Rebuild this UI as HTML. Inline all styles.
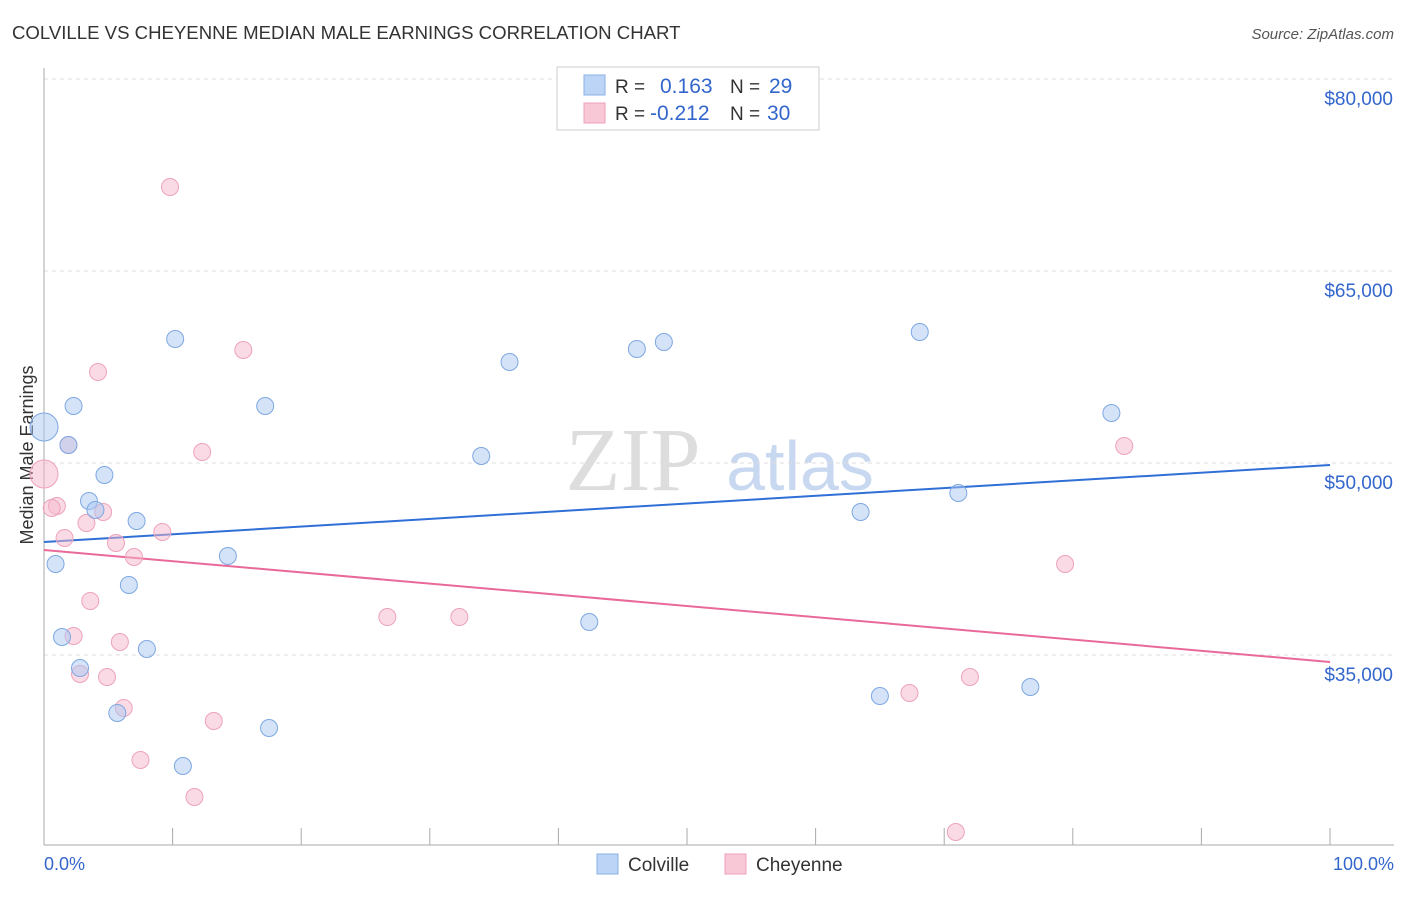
<!DOCTYPE html>
<html><head><meta charset="utf-8"><style>
body{margin:0;background:#fff;font-family:"Liberation Sans",sans-serif;}
svg text{font-family:"Liberation Sans",sans-serif;}
</style></head><body>
<svg id="chart" width="1406" height="892" xmlns="http://www.w3.org/2000/svg">
<text x="12" y="39" font-size="18.6" fill="#333">COLVILLE VS CHEYENNE MEDIAN MALE EARNINGS CORRELATION CHART</text>
<text x="1394" y="39" font-size="15" fill="#555" text-anchor="end" font-style="italic">Source: ZipAtlas.com</text>
<text x="33" y="455" font-size="18" fill="#333" text-anchor="middle" transform="rotate(-90 33 455)">Median Male Earnings</text>
<g>
<text x="633" y="490" font-size="90" fill="#ddd" text-anchor="middle" font-family="Liberation Serif, serif" style="font-family:'Liberation Serif',serif">ZIP</text>
<text x="800" y="490" font-size="70" fill="#c8d8f0" text-anchor="middle">atlas</text>
</g>
<g id="grid"></g>
<g id="axes"></g>
<g id="lines"></g>
<g id="pts"></g>
<g>
<rect x="557" y="67" width="262" height="63" fill="#fff" stroke="#ccc"/>
<rect x="584" y="75" width="21" height="20" fill="#bcd4f6" stroke="#8ab0e4"/>
<rect x="584" y="103" width="21" height="20" fill="#f9c8d6" stroke="#f0a0bb"/>
<text x="615" y="93" font-size="19" fill="#333">R =</text>
<text x="660" y="93" font-size="21" fill="#3366cc">0.163</text>
<text x="730" y="93" font-size="19" fill="#333">N =</text>
<text x="769" y="93" font-size="21" fill="#3366cc">29</text>
<text x="615" y="120" font-size="19" fill="#333">R =</text>
<text x="650" y="120" font-size="21" fill="#3366cc">-0.212</text>
<text x="730" y="120" font-size="19" fill="#333">N =</text>
<text x="767" y="120" font-size="21" fill="#3366cc">30</text>
</g>
<g>
<rect x="597" y="854" width="21" height="20" fill="#bcd4f6" stroke="#8ab0e4"/>
<text x="628" y="871" font-size="19" fill="#333">Colville</text>
<rect x="725" y="854" width="21" height="20" fill="#f9c8d6" stroke="#f0a0bb"/>
<text x="756" y="871" font-size="19" fill="#333">Cheyenne</text>
</g>
<text x="44" y="870" font-size="18" fill="#3366cc">0.0%</text>
<text x="1394" y="870" font-size="18" fill="#3366cc" text-anchor="end">100.0%</text>
</svg>
<script>
const yTicks=[80000,65000,50000,35000];
const yTickLabels=["$80,000","$65,000","$50,000","$35,000"];
const colvilleX=[0,2.3,1.9,4.7,3.5,4.0,7.2,0.9,6.6,14.3,1.4,2.8,8.0,5.7,10.8,17.5,10.2,17.2,34.0,36.2,42.4,46.1,48.2,63.5,65.0,68.1,71.1,76.7,83.0];
const colvilleY=[52813,54453,51406,49063,47031,46328,45469,42109,40469,42734,36406,33984,35469,30469,26328,29297,59688,54453,50547,57891,37578,58906,59453,46172,31797,60234,47656,32500,53906];
const cheyenneX=[0,1.9,1.0,0.6,1.6,3.3,4.6,4.2,5.6,7.0,9.2,3.6,2.3,2.8,4.9,5.9,6.2,7.5,11.7,13.2,9.8,15.5,12.3,26.7,32.3,67.3,72.0,70.9,79.4,84.0];
const cheyenneY=[49141,51406,46641,46484,44141,45313,46172,57109,43750,42656,44609,39219,36484,33516,33281,36016,30859,26797,23906,29844,71563,58828,50859,37969,37969,32031,33281,21172,42109,51328];
const colvilleTrend=[43828,49844];
const cheyenneTrend=[43203,34453];
const NS="http://www.w3.org/2000/svg";
const xs=p=>44+p*12.86;
const ys=v=>463-(v-50000)*0.0128;
function mk(tag,attrs,parent){const e=document.createElementNS(NS,tag);for(const k in attrs)e.setAttribute(k,attrs[k]);document.getElementById(parent).appendChild(e);return e;}
yTicks.forEach((t,i)=>{
 const l=mk('line',{x1:44,x2:1394,y1:ys(t),y2:ys(t),stroke:'#ddd','stroke-dasharray':'4,4'},'grid');
 
 
 const tx=mk('text',{x:1393,y:ys(t)+26,'font-size':19,fill:'#3366cc','text-anchor':'end'},'grid');
 tx.textContent=yTickLabels[i];
 
 
});
const ax=mk('line',{x1:44,x2:44,y1:68,y2:845,stroke:'#aaa'},'axes');


const bx=mk('line',{x1:44,x2:1394,y1:845,y2:845,stroke:'#aaa'},'axes');


for(let i=0;i<=10;i++){
 const t=mk('line',{x1:xs(i*10),x2:xs(i*10),y1:828,y2:845,stroke:'#aaa'},'axes');
 
 
}
const l1=mk('line',{x1:xs(0),x2:xs(100),y1:ys(colvilleTrend[0]),y2:ys(colvilleTrend[1]),stroke:'#2f6fd6','stroke-width':2},'lines');


const l2=mk('line',{x1:xs(0),x2:xs(100),y1:ys(cheyenneTrend[0]),y2:ys(cheyenneTrend[1]),stroke:'#e8699a','stroke-width':2},'lines');


function pts(X,Y,fill,stroke,name){X.forEach((x,i)=>{
 const c=mk('circle',{cx:xs(x),cy:ys(Y[i]),r:(i==0?14:8.5),fill:fill,stroke:stroke,'stroke-width':1},'pts');
 
 
});}
pts(cheyenneX,cheyenneY,'rgba(246,184,204,0.5)','#eea2bc','cheyenne-point');
pts(colvilleX,colvilleY,'rgba(170,200,242,0.5)','#7ea8e2','colville-point');
</script>
</body></html>
